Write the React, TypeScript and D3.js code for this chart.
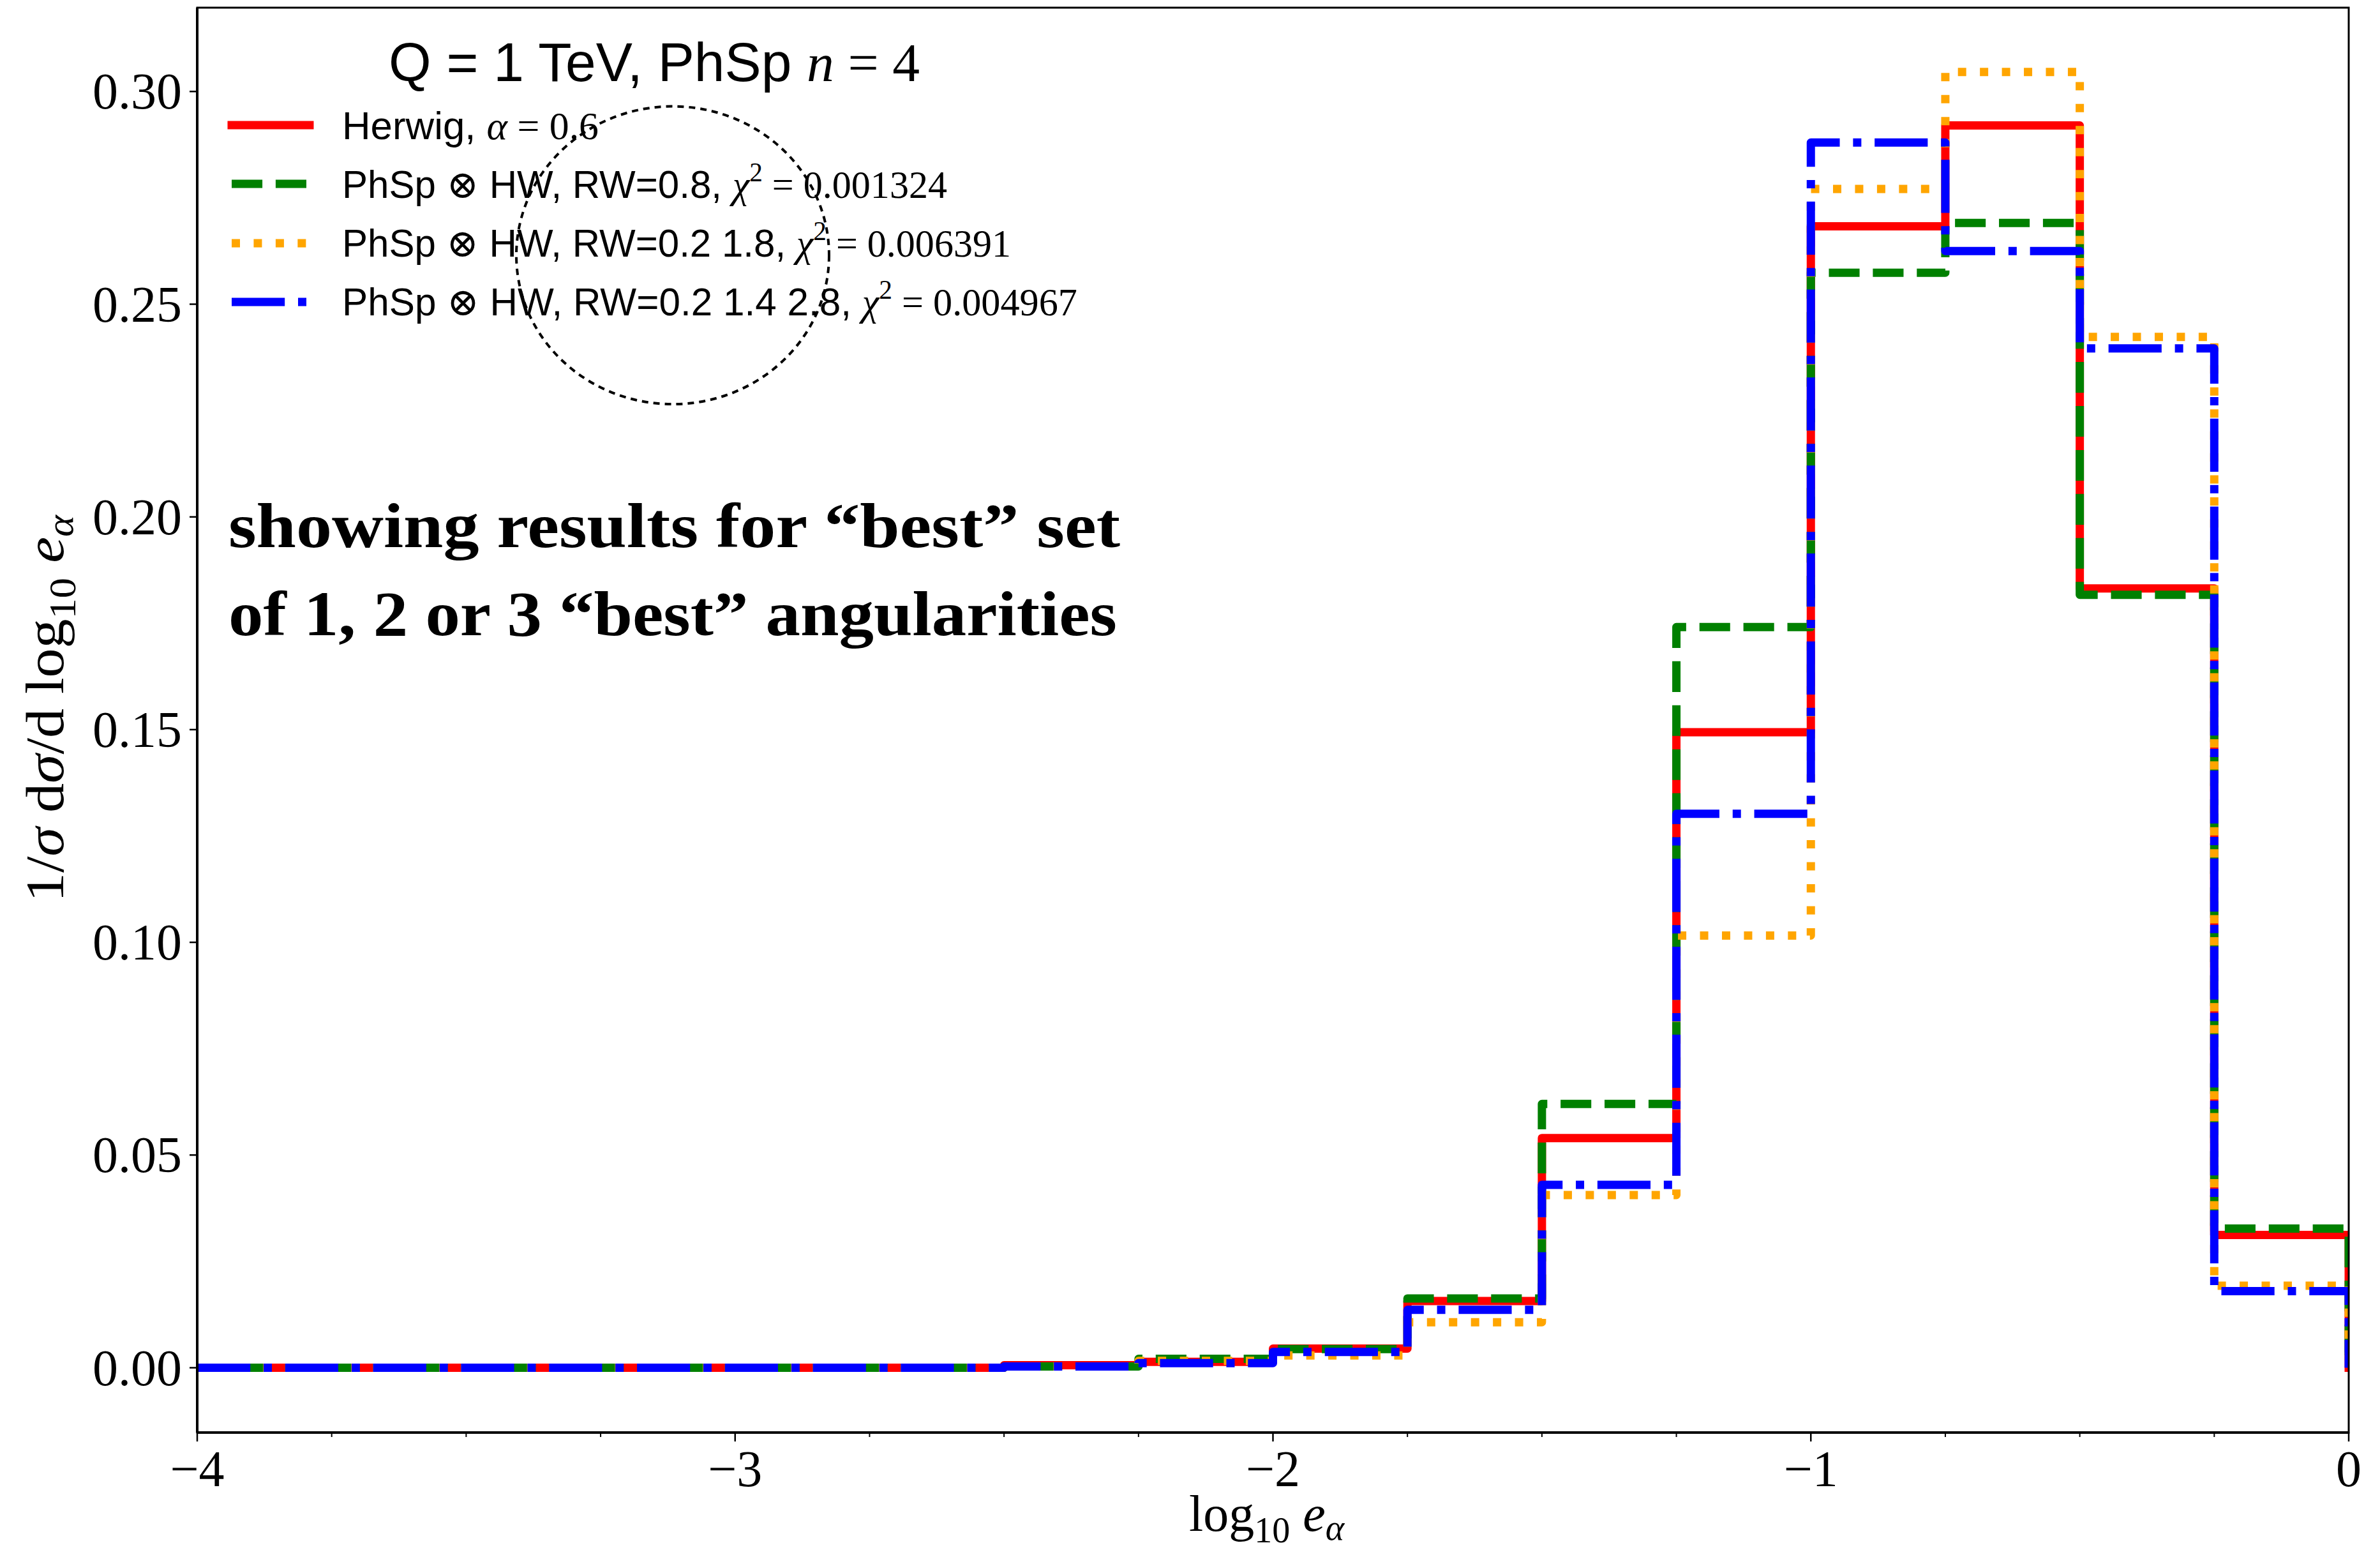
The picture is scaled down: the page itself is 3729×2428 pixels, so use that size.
import React from 'react';
import * as d3 from 'd3';

// bin edges of log10 e_alpha
const binEdges = [-4, -3.75, -3.5, -3.25, -3, -2.75, -2.5, -2.25, -2, -1.75, -1.5, -1.25, -1, -0.75, -0.5, -0.25, 0];

// normalised distributions, one value per bin
const herwig = [0, 0, 0, 0, 0, 0, 0.0006, 0.0014, 0.0045, 0.0157, 0.054, 0.1494, 0.2683, 0.292, 0.1832, 0.0312];
const rw08 = [0, 0, 0, 0, 0, 0, 0.0003, 0.0021, 0.0044, 0.0163, 0.062, 0.1741, 0.2574, 0.2691, 0.1817, 0.0327];
const rw0218 = [0, 0, 0, 0, 0, 0, 0.0003, 0.0016, 0.0029, 0.0107, 0.0406, 0.1016, 0.2771, 0.3046, 0.2423, 0.0193];
const rw021428 = [0, 0, 0, 0, 0, 0, 0.0003, 0.0011, 0.0037, 0.0136, 0.043, 0.1302, 0.288, 0.2625, 0.2396, 0.018];

const xTicks = [-4, -3, -2, -1, 0];
const xMinor = [-3.75, -3.5, -3.25, -2.75, -2.5, -2.25, -1.75, -1.5, -1.25, -0.75, -0.5, -0.25];
const yTicks = [0, 0.05, 0.1, 0.15, 0.2, 0.25, 0.3];

const W = 3729;
const H = 2428;
const box = { left: 309, right: 3680, top: 12, bottom: 2244 };
const LW = 13;

const series = [
  { key: 'hw', values: herwig, color: '#ff0000', dash: 'none' },
  { key: 'rw08', values: rw08, color: '#008000', dash: `${3.7 * LW} ${1.6 * LW}` },
  { key: 'rw0218', values: rw0218, color: '#ffa500', dash: `${1 * LW} ${1.65 * LW}` },
  { key: 'rw021428', values: rw021428, color: '#0000ff', dash: `${6.4 * LW} ${1.6 * LW} ${1 * LW} ${1.6 * LW}` },
];

const serif = '"Liberation Serif", "DejaVu Serif", serif';
const sans = '"Liberation Sans", Arial, Helvetica, sans-serif';

export default function App() {
  const x = d3.scaleLinear().domain([-4, 0]).range([box.left, box.right]);
  const y = d3.scaleLinear().domain([0, 0.3]).range([2142.5, 143.3]);

  const stepLine = d3.line<[number, number]>()
    .x(d => x(d[0]))
    .y(d => y(d[1]))
    .curve(d3.curveStepAfter);

  const pathFor = (vals: number[]) => {
    const pts: [number, number][] = [[binEdges[0], 0]];
    vals.forEach((v, i) => pts.push([binEdges[i], v]));
    pts.push([binEdges[binEdges.length - 1], vals[vals.length - 1]]);
    pts.push([binEdges[binEdges.length - 1], 0]);
    return stepLine(pts) || '';
  };

  const legendY = [196, 288, 381, 473];
  const legendX1 = 363;
  const legendX2 = 485;
  const textX = 536;
  const fs = 61;

  // dotted circle annotation, in data coordinates
  const ring = { cx: -3.116, cy: 0.2615, rx: 0.2907, ry: 0.035 };

  return (
    <svg width={W} height={H} style={{ position: 'absolute', left: 0, top: 0, background: '#fff' }}>
      <rect x={0} y={0} width={W} height={H} fill="#fff" />
      <defs>
        <clipPath id="plotArea">
          <rect x={box.left} y={box.top} width={box.right - box.left} height={box.bottom - box.top} />
        </clipPath>
      </defs>

      {/* histogram outlines */}
      <g clipPath="url(#plotArea)">
        {series.map(s => (
          <path
            key={s.key}
            d={pathFor(s.values)}
            fill="none"
            stroke={s.color}
            strokeWidth={LW}
            strokeDasharray={s.dash}
            strokeLinejoin="round"
            strokeLinecap={s.dash === 'none' ? 'square' : 'butt'}
          />
        ))}
      </g>

      {/* dotted ring */}
      <ellipse
        cx={x(ring.cx)}
        cy={y(ring.cy)}
        rx={x(ring.cx + ring.rx) - x(ring.cx)}
        ry={y(ring.cy) - y(ring.cy + ring.ry)}
        fill="none"
        stroke="#000"
        strokeWidth={4}
        strokeDasharray="10 8"
      />

      {/* spines */}
      <rect x={box.left} y={box.top} width={box.right - box.left} height={box.bottom - box.top}
        fill="none" stroke="#000" strokeWidth={3} />
      <line x1={box.left} x2={box.left} y1={box.top} y2={box.bottom} stroke="#000" strokeWidth={4} />
      <line x1={box.left} x2={box.right} y1={box.bottom} y2={box.bottom} stroke="#000" strokeWidth={4} />

      {/* x ticks */}
      {xTicks.map(t => (
        <g key={'xt' + t}>
          <line x1={x(t)} x2={x(t)} y1={box.bottom} y2={box.bottom + 14} stroke="#000" strokeWidth={2.5} />
          <text x={x(t)} y={2328} textAnchor="middle" fontFamily={serif} fontSize={80}>
            {t < 0 ? '\u2212' + Math.abs(t) : String(t)}
          </text>
        </g>
      ))}
      {xMinor.map(t => (
        <line key={'xm' + t} x1={x(t)} x2={x(t)} y1={box.bottom} y2={box.bottom + 7} stroke="#000" strokeWidth={2} />
      ))}

      {/* y ticks */}
      {yTicks.map(t => (
        <g key={'yt' + t}>
          <line x1={box.left - 12} x2={box.left} y1={y(t)} y2={y(t)} stroke="#000" strokeWidth={2.5} />
          <text x={285} y={y(t) + 27} textAnchor="end" fontFamily={serif} fontSize={80}>
            {t.toFixed(2)}
          </text>
        </g>
      ))}

      {/* axis labels */}
      <text x={(box.left + box.right) / 2 - 10} y={2398} textAnchor="middle" fontFamily={serif} fontSize={80}>
        <tspan>log</tspan>
        <tspan fontSize={56} dy={18}>10</tspan>
        <tspan dy={-18}> </tspan>
        <tspan fontStyle="italic">e</tspan>
        <tspan fontSize={56} dy={14} fontStyle="italic">α</tspan>
      </text>
      <text transform={`translate(99, 1110) rotate(-90)`} textAnchor="middle" fontFamily={serif} fontSize={84}
        textLength={606} lengthAdjust="spacingAndGlyphs">
        <tspan>1/</tspan>
        <tspan fontStyle="italic">σ</tspan>
        <tspan> d</tspan>
        <tspan fontStyle="italic">σ</tspan>
        <tspan>/d log</tspan>
        <tspan fontSize={59} dy={19}>10</tspan>
        <tspan dy={-19}> </tspan>
        <tspan fontStyle="italic">e</tspan>
        <tspan fontSize={59} dy={15} fontStyle="italic">α</tspan>
      </text>

      {/* legend title */}
      <text x={609} y={127} fontSize={85} textLength={832} lengthAdjust="spacingAndGlyphs">
        <tspan fontFamily={sans}>Q = 1 TeV, PhSp </tspan>
        <tspan fontFamily={serif} fontStyle="italic">n</tspan>
        <tspan fontFamily={serif}> = 4</tspan>
      </text>

      {/* legend handles */}
      {series.map((s, i) => (
        <line
          key={'lg' + s.key}
          x1={legendX1}
          x2={legendX2}
          y1={legendY[i]}
          y2={legendY[i]}
          stroke={s.color}
          strokeWidth={LW}
          strokeDasharray={s.dash}
          strokeLinecap={s.dash === 'none' ? 'square' : 'butt'}
        />
      ))}

      {/* legend labels */}
      <text x={textX} y={218} fontSize={fs} textLength={402} lengthAdjust="spacingAndGlyphs">
        <tspan fontFamily={sans}>Herwig, </tspan>
        <tspan fontFamily={serif} fontStyle="italic">α</tspan>
        <tspan fontFamily={serif}> = 0.6</tspan>
      </text>
      <text x={textX} y={310} fontSize={fs} textLength={948} lengthAdjust="spacingAndGlyphs">
        <tspan fontFamily={sans}>PhSp </tspan>
        <tspan fontFamily={serif}>⊗</tspan>
        <tspan fontFamily={sans}> HW, RW=0.8, </tspan>
        <tspan fontFamily={serif} fontStyle="italic">χ</tspan>
        <tspan fontFamily={serif} fontSize={42} dy={-26}>2</tspan>
        <tspan fontFamily={serif} dy={26}> = 0.001324</tspan>
      </text>
      <text x={textX} y={402} fontSize={fs} textLength={1048} lengthAdjust="spacingAndGlyphs">
        <tspan fontFamily={sans}>PhSp </tspan>
        <tspan fontFamily={serif}>⊗</tspan>
        <tspan fontFamily={sans}> HW, RW=0.2 1.8, </tspan>
        <tspan fontFamily={serif} fontStyle="italic">χ</tspan>
        <tspan fontFamily={serif} fontSize={42} dy={-26}>2</tspan>
        <tspan fontFamily={serif} dy={26}> = 0.006391</tspan>
      </text>
      <text x={textX} y={494} fontSize={fs} textLength={1152} lengthAdjust="spacingAndGlyphs">
        <tspan fontFamily={sans}>PhSp </tspan>
        <tspan fontFamily={serif}>⊗</tspan>
        <tspan fontFamily={sans}> HW, RW=0.2 1.4 2.8, </tspan>
        <tspan fontFamily={serif} fontStyle="italic">χ</tspan>
        <tspan fontFamily={serif} fontSize={42} dy={-26}>2</tspan>
        <tspan fontFamily={serif} dy={26}> = 0.004967</tspan>
      </text>

      {/* annotation */}
      <text x={358} y={857} fontFamily={serif} fontWeight="bold" fontSize={100}
        textLength={1397} lengthAdjust="spacingAndGlyphs">
        showing results for “best” set
      </text>
      <text x={358} y={995} fontFamily={serif} fontWeight="bold" fontSize={100}
        textLength={1392} lengthAdjust="spacingAndGlyphs">
        of 1, 2 or 3 “best” angularities
      </text>
    </svg>
  );
}
